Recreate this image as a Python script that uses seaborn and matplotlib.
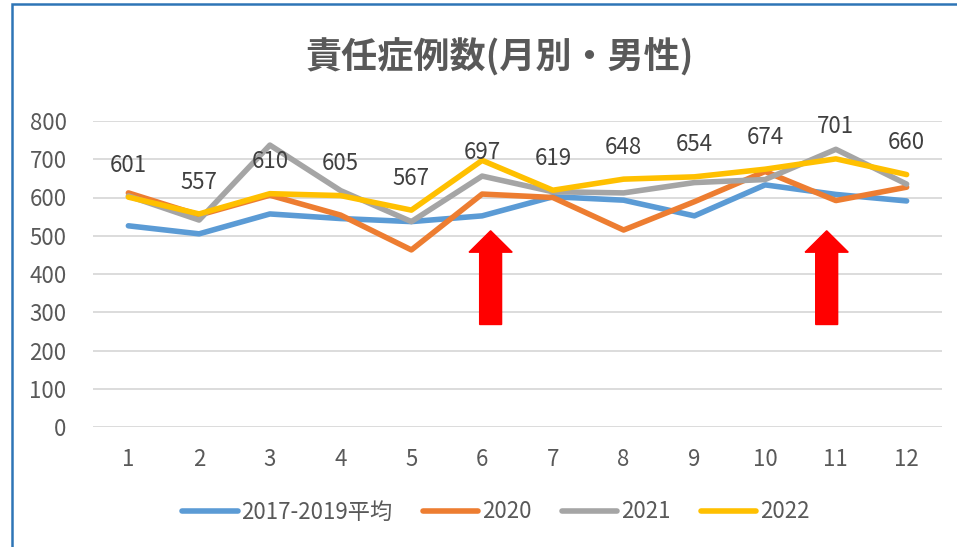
"""Monthly responsibility cases (male) line chart, Excel-style."""

import matplotlib
matplotlib.use("Agg")
import matplotlib.pyplot as plt
from matplotlib.patches import Rectangle
import pandas as pd
import seaborn as sns

months = list(range(1, 13))
series_names = ["2017-2019平均", "2020", "2021", "2022"]
avg_2017_2019 = [526, 505, 557, 545, 537, 552, 602, 593, 552, 633, 608, 591]
y2020 = [612, 554, 606, 554, 463, 609, 600, 515, 589, 668, 592, 627]
y2021 = [604, 541, 737, 618, 537, 656, 615, 612, 639, 647, 726, 635]
y2022 = [601, 557, 610, 605, 567, 697, 619, 648, 654, 674, 701, 660]
colors = ["#5B9BD5", "#ED7D31", "#A5A5A5", "#FFC000"]

# red arrows (x in months, y from base to tip)
arrow_x = [6.12, 10.87]
arrow_base, arrow_tip = 268, 513

title = "責任症例数(月別・男性)"
text_color = "#595959"

df = pd.DataFrame({
    "month": months * 4,
    "value": avg_2017_2019 + y2020 + y2021 + y2022,
    "series": sum([[s] * 12 for s in series_names], []),
})

sns.set_style("white")
plt.rcParams["font.family"] = ["Noto Sans CJK JP", "DejaVu Sans"]

fig = plt.figure(figsize=(9.57, 5.47), dpi=100)
ax = fig.add_axes([93 / 957, 1 - 427 / 547, (942 - 93) / 957, (427 - 121) / 547])

sns.lineplot(data=df, x="month", y="value", hue="series", hue_order=series_names,
             palette=colors, linewidth=4, ax=ax, legend=False,
             solid_capstyle="round", solid_joinstyle="round")

ax.set_xlim(0.5, 12.5)
ax.set_ylim(0, 800)
ax.set_xticks(months)
ax.set_yticks(range(0, 801, 100))
ax.grid(axis="y", color="#D9D9D9", linewidth=1.3)
ax.set_axisbelow(True)
for s in ax.spines.values():
    s.set_visible(False)
ax.set_xlabel("")
ax.set_ylabel("")
ax.tick_params(axis="x", length=0, pad=15, labelsize=16, labelcolor=text_color)
ax.tick_params(axis="y", length=0, pad=19, labelsize=16, labelcolor=text_color)

# data labels for 2022
for m, v in zip(months, y2022):
    off = 6 if m == 6 else 23
    ax.annotate(str(v), (m, v), xytext=(0, off), textcoords="offset points",
                ha="center", va="center", fontsize=16, color="#404040")

for x in arrow_x:
    ax.arrow(x, arrow_base, 0, arrow_tip - arrow_base, width=0.31, head_width=0.61,
             head_length=56, length_includes_head=True, color="#FF0000", zorder=5)

fig.text(500 / 957, 1 - 57 / 547, title, ha="center", va="center",
         fontsize=26, fontweight="bold", color=text_color)

handles = ax.get_lines()[:4]
fig.legend(handles, series_names, loc="center", bbox_to_anchor=(496 / 957, 1 - 512 / 547),
           ncol=4, frameon=False, fontsize=16, handlelength=2.5, handletextpad=0.18,
           columnspacing=1.35, labelcolor=text_color)

fig.patches.append(Rectangle((12 / 957, -0.05), 1.2, (547 - 4) / 547 + 0.05,
                             transform=fig.transFigure, fill=False,
                             edgecolor="#2E75B6", linewidth=1.8, clip_on=False))

fig.savefig("out.png", dpi=100)
